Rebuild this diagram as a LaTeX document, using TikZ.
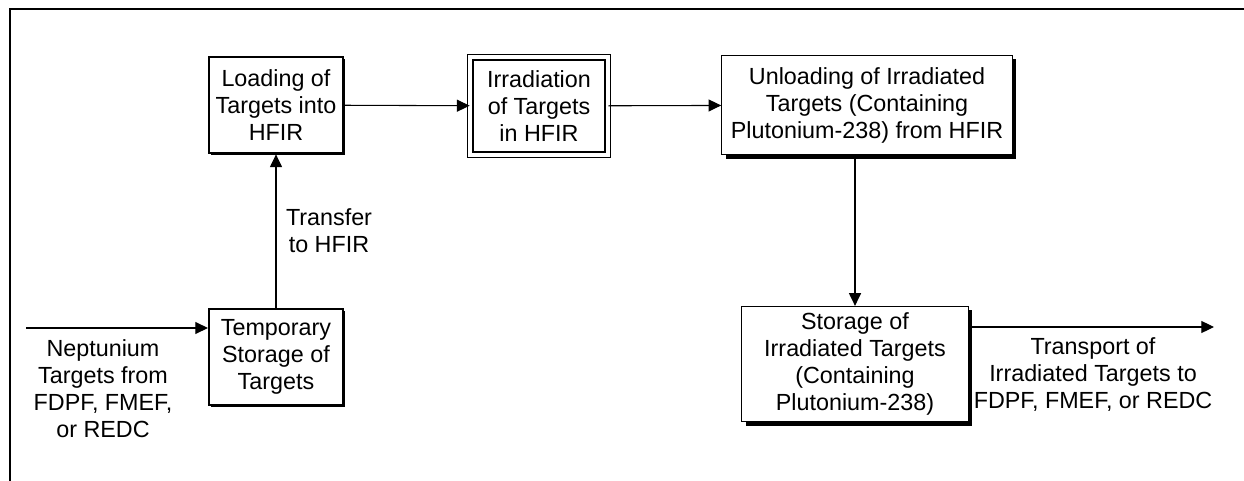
\documentclass[tikz,border=0pt]{standalone}
\usepackage{fontspec}
\setmainfont{Liberation Sans}
\usetikzlibrary{arrows.meta,positioning,calc,shadows}

\begin{document}
\begin{tikzpicture}[x=0.75pt,y=-0.75pt,
    txt/.style   = {align=center,font=\fontsize{17.5}{20.25}\selectfont,inner sep=1pt},
    heavy/.style = {txt,rectangle,draw,fill=white,line width=1.6pt,inner sep=2pt,
                    drop shadow={shadow xshift=1.4pt,shadow yshift=-1.4pt,fill=black,opacity=1}},
    shad/.style  = {txt,rectangle,draw,fill=white,line width=0.7pt,inner sep=2pt,
                    drop shadow={shadow xshift=3pt,shadow yshift=-3pt,fill=black,opacity=1}},
    dbl/.style   = {txt,rectangle,draw,double,line width=1.1pt,double distance=3.2pt,inner sep=2pt},
    fl/.style    = {-{Triangle[length=9.5pt,width=9pt]},line width=0.8pt},
  ]
  \useasboundingbox (0,0) rectangle (1244,481);

  % frame
  \draw[line width=2pt] (10,481) -- (10,9) -- (1244,9);

  \node[heavy,minimum width=100.5pt,minimum height=72.5pt] (load) at (276,105)
       {Loading of\\Targets into\\HFIR};
  \node[heavy,minimum width=100.5pt,minimum height=72pt] (temp) at (276,357)
       {Temporary\\Storage of\\Targets};
  \node[dbl,minimum width=103pt,minimum height=73pt] (irr) at (539,106)
       {Irradiation\\of Targets\\in HFIR};
  \node[shad,minimum width=218pt,minimum height=74.5pt] (unload) at (867,105)
       {Unloading of Irradiated\\Targets (Containing\\Plutonium-238) from HFIR};
  \node[shad,minimum width=170pt,minimum height=86.5pt] (stor) at (855,364)
       {Storage of\\Irradiated Targets\\(Containing\\Plutonium-238)};

  \coordinate (in)  at (26,328);
  \coordinate (out) at (1214,327);

  \draw[fl] (in) -- (in -| temp.west);
  \draw[fl] (temp) -- (load);
  \draw[fl] (load) -- (irr);
  \draw[fl] (irr) -- (unload);
  \draw[fl] (stor.north |- unload.south) -- (stor.north);
  \draw[fl] (stor.east |- out) -- (out);

  \node[txt] (nept)  at (103,389) {Neptunium\\Targets from\\FDPF, FMEF,\\or REDC};
  \node[txt] (trans) at (329,231) {Transfer\\to HFIR};
  \node[txt] (ship)  at (1093,375) {Transport of\\Irradiated Targets to\\FDPF, FMEF, or REDC};

\end{tikzpicture}
\end{document}
